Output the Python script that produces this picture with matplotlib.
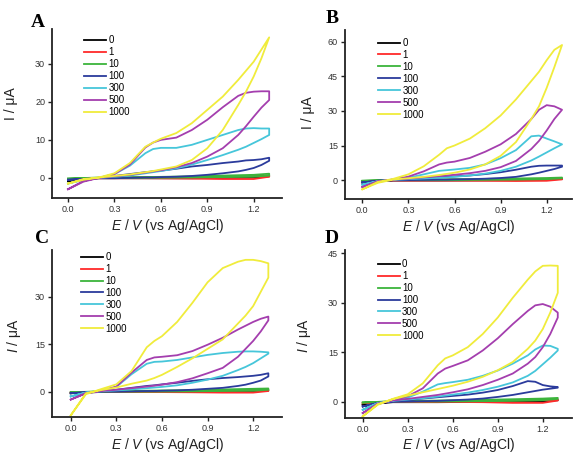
import matplotlib
matplotlib.use("Agg")
import matplotlib.pyplot as plt

# potential grids (V vs Ag/AgCl)
E = [0.0, 0.1, 0.2, 0.3, 0.4, 0.5, 0.55, 0.6, 0.7, 0.8, 0.9, 1.0, 1.1, 1.15, 1.2, 1.25, 1.3]
E_LOW = [0.0, 0.2, 0.5, 0.8, 1.0, 1.2, 1.3]

labels = ["0", "1", "10", "100", "300", "500", "1000"]
colors = ["#000000", "#ff2a2a", "#3cb43c", "#2b3b9c", "#46c6da", "#a43eae", "#f0ec3c"]

# upper / lower branch of each voltammogram, current in uA
A_UP = {
    "0": [-0.8, 0.0, 0.1, 0.2, 0.3, 0.4, 0.6],
    "1": [-0.3, 0.0, 0.1, 0.2, 0.3, 0.4, 0.5],
    "10": [-0.2, 0.1, 0.2, 0.4, 0.6, 0.8, 1.1],
    "100": [-0.5, -0.3, 0.0, 0.5, 1.0, 1.5, 1.7, 1.9, 2.4, 3.0, 3.4, 3.9, 4.3, 4.6, 4.7, 4.9, 5.3],
    "300": [-1.5, -0.5, 0.0, 1.0, 3.2, 6.5, 7.6, 7.9, 7.9, 8.7, 10.0, 11.3, 12.6, 13.0, 13.1, 13.0, 13.0],
    "500": [-3.0, -0.8, 0.0, 1.0, 3.5, 8.0, 9.3, 10.0, 10.6, 12.6, 15.3, 18.6, 21.6, 22.4, 22.7, 22.8, 22.8],
    "1000": [-1.5, -0.3, 0.1, 1.2, 3.9, 8.2, 9.3, 10.3, 11.8, 14.4, 17.9, 21.4, 25.8, 28.2, 30.6, 33.8, 37.0],
}
A_DOWN = {
    "0": [-0.8, -0.1, -0.1, -0.1, 0.0, 0.1, 0.4],
    "1": [-0.3, -0.1, -0.1, -0.2, -0.3, -0.3, 0.3],
    "10": [-0.2, 0.0, 0.0, 0.1, 0.2, 0.3, 0.6],
    "100": [-0.5, -0.3, -0.1, -0.1, 0.0, 0.1, 0.1, 0.2, 0.3, 0.5, 0.8, 1.2, 1.7, 2.1, 2.6, 3.4, 4.5],
    "300": [-1.5, -0.5, 0.0, 0.3, 0.6, 1.2, 1.5, 1.8, 2.5, 3.5, 4.7, 6.0, 7.4, 8.2, 9.2, 10.2, 11.3],
    "500": [-3.0, -1.0, 0.0, 0.4, 0.8, 1.4, 1.7, 2.0, 2.8, 3.9, 5.6, 7.8, 11.3, 13.6, 16.1, 18.5, 20.5],
    "1000": [-1.5, -0.5, 0.1, 0.5, 0.9, 1.5, 1.8, 2.2, 3.0, 4.7, 7.8, 12.6, 19.2, 22.7, 26.7, 31.5, 37.0],
}

B_UP = {
    "0": [-1.0, 0.0, 0.1, 0.2, 0.3, 0.4, 0.6],
    "1": [-0.5, 0.0, 0.1, 0.2, 0.3, 0.4, 0.5],
    "10": [-0.3, 0.1, 0.3, 0.5, 0.7, 0.9, 1.1],
    "100": [-1.0, -0.3, 0.0, 0.4, 0.8, 1.2, 1.4, 1.6, 2.0, 2.6, 3.4, 4.5, 5.8, 6.2, 6.3, 6.3, 6.3],
    "300": [-2.0, -0.5, 0.2, 1.0, 2.5, 4.0, 4.3, 4.6, 5.3, 6.8, 9.5, 13.0, 19.0, 19.3, 18.0, 16.8, 15.5],
    "500": [-3.0, -0.7, 0.3, 1.5, 3.8, 6.8, 7.6, 8.0, 9.6, 12.3, 15.5, 20.0, 26.5, 30.5, 32.5, 32.0, 30.5],
    "1000": [-4.0, -0.8, 0.5, 2.5, 6.0, 11.0, 13.8, 15.0, 18.0, 22.5, 28.0, 35.0, 43.0, 47.0, 52.0, 56.5, 58.6],
}
B_DOWN = {
    "0": [-1.0, -0.2, -0.2, -0.1, 0.0, 0.2, 0.5],
    "1": [-0.5, -0.2, -0.2, -0.3, -0.4, -0.3, 0.3],
    "10": [-0.3, 0.0, 0.0, 0.1, 0.2, 0.4, 0.8],
    "100": [-1.0, -0.3, -0.1, 0.0, 0.1, 0.2, 0.2, 0.3, 0.4, 0.6, 0.9, 1.4, 2.5, 3.2, 4.0, 4.8, 5.8],
    "300": [-2.0, -0.5, 0.1, 0.4, 0.7, 1.0, 1.2, 1.4, 2.0, 2.8, 4.0, 5.8, 8.5, 10.2, 12.0, 13.8, 15.5],
    "500": [-3.0, -0.5, 0.2, 0.6, 1.2, 1.7, 2.0, 2.3, 3.0, 4.0, 5.6, 8.3, 13.5, 17.0, 21.5, 26.5, 30.5],
    "1000": [-4.0, -1.2, 0.2, 0.8, 1.4, 2.2, 2.7, 3.2, 4.6, 6.8, 10.5, 16.5, 26.5, 32.0, 40.0, 49.0, 58.6],
}

C_UP = {
    "0": [-0.5, 0.0, 0.1, 0.2, 0.3, 0.4, 0.6],
    "1": [-0.3, 0.0, 0.1, 0.2, 0.3, 0.4, 0.4],
    "10": [-0.2, 0.1, 0.3, 0.5, 0.7, 0.9, 1.0],
    "100": [-0.5, -0.2, 0.1, 0.6, 1.2, 1.8, 2.0, 2.3, 2.8, 3.4, 3.9, 4.3, 4.6, 4.8, 5.0, 5.3, 5.8],
    "300": [-1.5, -0.3, 0.3, 1.5, 5.5, 8.8, 9.4, 9.5, 10.0, 10.8, 11.6, 12.2, 12.6, 12.7, 12.7, 12.6, 12.4],
    "500": [-2.5, -0.5, 0.3, 1.6, 6.0, 10.0, 10.8, 11.0, 11.5, 12.8, 14.8, 17.0, 19.6, 20.8, 22.0, 23.0, 23.7],
    "1000": [-7.5, -0.8, 0.8, 2.3, 6.5, 14.0, 16.0, 17.5, 22.0, 28.0, 34.5, 39.0, 41.0, 41.6, 41.6, 41.2, 40.5],
}
C_DOWN = {
    "0": [-0.5, -0.1, -0.1, -0.1, 0.0, 0.1, 0.4],
    "1": [-0.3, -0.1, -0.1, -0.2, -0.3, -0.3, 0.2],
    "10": [-0.2, 0.0, 0.0, 0.1, 0.2, 0.3, 0.6],
    "100": [-0.5, -0.2, 0.0, 0.0, 0.1, 0.2, 0.2, 0.3, 0.4, 0.6, 0.9, 1.2, 1.8, 2.2, 2.8, 3.5, 4.8],
    "300": [-1.5, -0.3, 0.1, 0.4, 0.7, 1.1, 1.3, 1.5, 2.0, 2.8, 3.8, 5.0, 6.8, 7.8, 9.0, 10.5, 12.0],
    "500": [-2.5, -0.5, 0.2, 0.6, 1.1, 1.6, 1.9, 2.2, 3.0, 4.2, 5.8, 7.5, 11.0, 13.5, 16.0, 19.0, 22.5],
    "1000": [-7.5, -0.5, 0.5, 1.3, 2.5, 3.5, 4.3, 5.3, 7.8, 10.5, 13.5, 16.5, 21.5, 24.0, 27.0, 31.5, 36.0],
}

D_UP = {
    "0": [-1.0, 0.0, 0.1, 0.2, 0.3, 0.4, 0.5],
    "1": [-0.5, 0.0, 0.1, 0.2, 0.3, 0.4, 0.5],
    "10": [-0.3, 0.1, 0.3, 0.5, 0.7, 0.9, 1.1],
    "100": [-1.5, -0.5, 0.1, 0.5, 0.9, 1.3, 1.5, 1.7, 2.1, 2.7, 3.5, 4.7, 6.2, 6.0, 5.0, 4.6, 4.4],
    "300": [-2.5, -0.5, 0.3, 1.2, 3.0, 5.2, 5.6, 5.9, 6.6, 7.8, 9.4, 11.5, 14.0, 15.8, 17.0, 16.9, 16.0],
    "500": [-3.5, -0.8, 0.5, 1.6, 4.0, 8.5, 10.0, 10.8, 12.5, 15.5, 19.2, 23.5, 27.5, 29.2, 29.6, 28.8, 27.0],
    "1000": [-4.5, -1.0, 0.8, 2.2, 5.5, 11.0, 13.1, 14.0, 16.5, 20.5, 25.5, 31.5, 37.0, 39.5, 41.2, 41.3, 41.2],
}
D_DOWN = {
    "0": [-1.0, -0.2, -0.2, -0.1, 0.0, 0.1, 0.4],
    "1": [-0.5, -0.1, -0.1, -0.2, -0.4, -0.4, 0.3],
    "10": [-0.3, 0.0, 0.0, 0.1, 0.2, 0.4, 0.8],
    "100": [-1.5, -0.4, -0.1, 0.0, 0.1, 0.2, 0.3, 0.4, 0.6, 0.9, 1.4, 2.0, 2.8, 3.2, 3.6, 3.9, 4.2],
    "300": [-2.5, -0.5, 0.2, 0.6, 1.0, 1.5, 1.8, 2.1, 2.7, 3.5, 4.5, 5.8, 7.8, 9.3, 11.3, 13.3, 15.5],
    "500": [-3.5, -0.6, 0.3, 0.8, 1.4, 2.0, 2.4, 2.8, 3.7, 5.0, 6.6, 8.5, 11.5, 13.5, 16.5, 20.5, 25.5],
    "1000": [-4.5, -0.8, 0.7, 1.8, 2.8, 3.8, 4.3, 4.8, 6.0, 7.5, 9.5, 12.0, 16.0, 18.5, 22.0, 27.0, 33.0],
}

x_ticks = [0.0, 0.3, 0.6, 0.9, 1.2]
A_YTICKS = [0, 10, 20, 30]
B_YTICKS = [0, 15, 30, 45, 60]
C_YTICKS = [0, 15, 30]
D_YTICKS = [0, 15, 30, 45]

plt.rcParams["font.family"] = "Liberation Sans"
plt.rcParams["mathtext.fontset"] = "custom"
plt.rcParams["mathtext.rm"] = "Liberation Sans"
plt.rcParams["mathtext.it"] = "Liberation Sans:italic"

fig = plt.figure(figsize=(5.73, 4.54), dpi=100)

panels = [
    # letter, up, down, yticks, rect, xlim, ylim, legend anchor, ylabel, ylabel pos, xlabel y, letter pos
    ("A", A_UP, A_DOWN, A_YTICKS, [0.0908, 0.5639, 0.4014, 0.3722], (-0.103, 1.383), (-5.3, 39.2),
     (0.139, 0.962), "I / \u03bcA", (-0.148, 0.56), -0.112, (0.066, 0.95)),
    ("B", B_UP, B_DOWN, B_YTICKS, [0.6021, 0.5617, 0.3962, 0.3722], (-0.113, 1.365), (-8.2, 65.1),
     (0.145, 0.953), "I / \u03bcA", (-0.132, 0.51), -0.112, (0.579, 0.96)),
    ("C", C_UP, C_DOWN, C_YTICKS, [0.0908, 0.0815, 0.4014, 0.3678], (-0.123, 1.39), (-8.0, 44.7),
     (0.126, 0.988), "$I$ / \u03bcA", (-0.125, 0.49), -0.115, (0.073, 0.475)),
    ("D", D_UP, D_DOWN, D_YTICKS, [0.6021, 0.0793, 0.3962, 0.3700], (-0.118, 1.395), (-5.0, 46.0),
     (0.144, 0.946), "$I$ / \u03bcA", (-0.14, 0.49), -0.105, (0.579, 0.475)),
]

for letter, up, down, yticks, rect, xlim, ylim, leg_pos, ylab, ylab_pos, xlab_y, let_pos in panels:
    ax = fig.add_axes(rect)
    for lab, col in zip(labels, colors):
        e = E if len(up[lab]) == len(E) else E_LOW
        xs = e + e[::-1]
        ys = up[lab] + down[lab][::-1]
        ax.plot(xs, ys, color=col, lw=1.3, label=lab)

    ax.set_xlim(xlim)
    ax.set_ylim(ylim)
    ax.set_xticks(x_ticks)
    ax.set_xticklabels(["%.1f" % t for t in x_ticks])
    ax.set_yticks(yticks)
    ax.spines["top"].set_visible(False)
    ax.spines["right"].set_visible(False)
    for s in ("left", "bottom"):
        ax.spines[s].set_linewidth(1.3)
        ax.spines[s].set_color("#222222")
    ax.tick_params(direction="out", length=3, width=1, labelsize=6.5,
                   labelcolor="#333333", color="#222222", pad=2)

    ax.set_xlabel("$E$ / $V$ (vs Ag/AgCl)", fontsize=10, color="#222222")
    ax.xaxis.set_label_coords(0.5, xlab_y)
    ax.set_ylabel(ylab, fontsize=10, color="#222222")
    ax.yaxis.set_label_coords(ylab_pos[0], ylab_pos[1])

    ax.legend(loc="upper left", bbox_to_anchor=leg_pos, frameon=False, fontsize=7,
              handlelength=2.3, handletextpad=0.2, labelspacing=0.2,
              borderpad=0, borderaxespad=0)

    fig.text(let_pos[0], let_pos[1], letter, fontsize=14, fontweight="bold",
             family="Liberation Serif", ha="center", va="center")

fig.savefig("out.png", dpi=100)
